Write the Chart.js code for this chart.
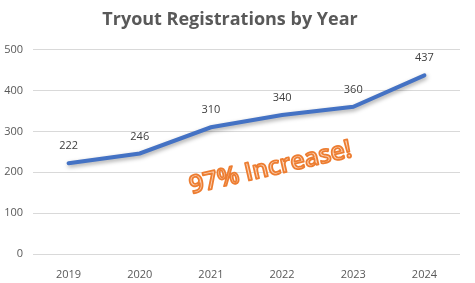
<!DOCTYPE html>
<html>
<head>
<meta charset="utf-8">
<script src="https://cdn.jsdelivr.net/npm/chart.js@4"></script>
<style>
  html, body { margin: 0; padding: 0; background: #fff; }
  #wrap { width: 475px; height: 283px; }
</style>
</head>
<body>
<div id="wrap"><canvas id="c" width="475" height="283"></canvas></div>
<script>
const years = ['2019', '2020', '2021', '2022', '2023', '2024'];
const registrations = [222, 246, 310, 340, 360, 437];
const yTicks = [0, 100, 200, 300, 400, 500];
const note = '97% Increase!';

const FONT = "'Open Sans', 'Liberation Sans', sans-serif";

// shadow under the line
const lineShadow = {
    id: 'lineShadow',
    beforeDatasetsDraw(chart) {
        const ctx = chart.ctx;
        ctx.save();
        ctx.shadowColor = 'rgba(0,0,0,0.35)';
        ctx.shadowBlur = 4;
        ctx.shadowOffsetX = 1;
        ctx.shadowOffsetY = 2;
    },
    afterDatasetsDraw(chart) {
        chart.ctx.restore();
    }
};

// value labels above the points
const valueLabels = {
    id: 'valueLabels',
    afterDatasetsDraw(chart) {
        const ctx = chart.ctx;
        const meta = chart.getDatasetMeta(0);
        ctx.save();
        ctx.font = '11px ' + FONT;
        ctx.fillStyle = '#404040';
        ctx.textAlign = 'center';
        ctx.textBaseline = 'middle';
        meta.data.forEach((pt, i) => {
            ctx.fillText(String(registrations[i]), pt.x, pt.y - 17);
        });
        ctx.restore();
    }
};

// the orange callout text
const callout = {
    id: 'callout',
    afterDraw(chart) {
        const ctx = chart.ctx;
        const cx = chart.scales.x.getPixelForValue(2.84);
        const cy = chart.scales.y.getPixelForValue(210);
        ctx.save();
        ctx.translate(cx, cy);
        ctx.rotate(-13 * Math.PI / 180);
        ctx.font = '600 25px ' + FONT;
        ctx.textAlign = 'center';
        ctx.textBaseline = 'middle';
        ctx.lineJoin = 'round';
        ctx.lineWidth = 1.8;
        ctx.strokeStyle = '#ED7D31';
        ctx.fillStyle = '#FAD3B8';
        ctx.fillText(note, 0, 0);
        ctx.strokeText(note, 0, 0);
        ctx.restore();
    }
};

new Chart('c', {
    type: 'line',
    data: {
        labels: years,
        datasets: [{
            data: registrations,
            borderColor: '#4472C4',
            borderWidth: 4,
            pointRadius: 0,
            tension: 0,
            fill: false,
            borderCapStyle: 'round'
        }]
    },
    options: {
        responsive: false,
        animation: false,
        layout: { padding: { left: 0, right: 15, top: 9, bottom: 0 } },
        plugins: {
            legend: { display: false },
            tooltip: { enabled: false },
            title: {
                display: true,
                text: 'Tryout Registrations by Year',
                color: '#595959',
                font: { family: FONT, size: 18, weight: 'bold' },
                padding: { top: 0, bottom: 19 }
            }
        },
        scales: {
            x: {
                offset: true,
                grid: { display: false },
                border: { display: false },
                ticks: { color: '#595959', font: { family: FONT, size: 11 }, padding: 6 },
                afterFit(axis) { axis.height = 29; }
            },
            y: {
                min: 0,
                max: 500,
                afterBuildTicks(axis) { axis.ticks = yTicks.map(v => ({ value: v })); },
                afterFit(axis) { axis.width = 33; },
                grid: { color: '#d9d9d9', lineWidth: 1, drawTicks: false },
                border: { display: false },
                ticks: { color: '#595959', font: { family: FONT, size: 11 }, padding: 10 }
            }
        }
    },
    plugins: [lineShadow, valueLabels, callout]
});
</script>
</body>
</html>
